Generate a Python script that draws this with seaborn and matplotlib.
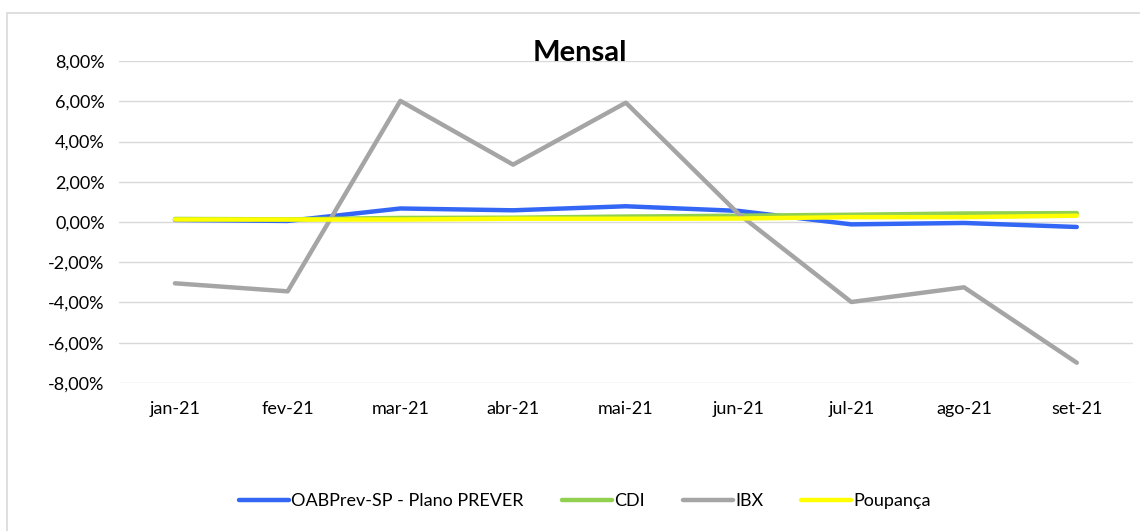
import pandas as pd
import matplotlib.pyplot as plt
import seaborn as sns
from matplotlib.ticker import FuncFormatter
from matplotlib.patches import Rectangle

meses = ["jan-21", "fev-21", "mar-21", "abr-21", "mai-21", "jun-21", "jul-21", "ago-21", "set-21"]
oabprev = [0.10, 0.05, 0.67, 0.58, 0.78, 0.55, -0.12, -0.05, -0.25]
cdi = [0.15, 0.13, 0.20, 0.21, 0.27, 0.31, 0.36, 0.42, 0.44]
ibx = [-3.05, -3.45, 6.02, 2.85, 5.93, 0.40, -3.98, -3.25, -7.00]
poupanca = [0.12, 0.12, 0.12, 0.16, 0.16, 0.17, 0.24, 0.24, 0.31]

series = {
    "OABPrev-SP - Plano PREVER": oabprev,
    "CDI": cdi,
    "IBX": ibx,
    "Poupança": poupanca,
}
cores = ["#3366F5", "#92D050", "#A5A5A5", "#FFFF00"]

df = pd.DataFrame(series, index=meses).reset_index(names="mes")
df = df.melt(id_vars="mes", var_name="serie", value_name="valor")

sns.set_style("white")
plt.rcParams["font.family"] = ["Lato", "DejaVu Sans"]
plt.rcParams["text.color"] = "black"

fig = plt.figure(figsize=(11.4, 5.31), dpi=100)
ax = fig.add_axes([0.104, 0.279, 0.890, 0.606])

sns.lineplot(data=df, x="mes", y="valor", hue="serie", palette=cores,
             linewidth=3.2, sort=False, ax=ax, solid_capstyle="round")

ax.set_ylim(-8, 8)
ax.set_xlim(-0.5, len(meses) - 0.5)
ax.set_yticks(range(-8, 9, 2))
ax.yaxis.set_major_formatter(FuncFormatter(lambda v, p: f"{v:.2f}%".replace(".", ",")))
ax.grid(axis="y", color="#D9D9D9", linewidth=1)
ax.set_axisbelow(True)
for s in ax.spines.values():
    s.set_visible(False)
ax.tick_params(axis="both", length=0, labelsize=13, labelcolor="black")
ax.tick_params(axis="x", pad=13)
ax.tick_params(axis="y", pad=10)
ax.set_xlabel("")
ax.set_ylabel("")

fig.text(0.509, 0.9, "Mensal", ha="center", va="center", fontsize=21,
         fontweight="bold", color="black")

handles, labels = ax.get_legend_handles_labels()
ax.legend_.remove()
fig.legend(handles, labels, loc="center", bbox_to_anchor=(0.513, 0.056), ncol=4,
           frameon=False, fontsize=13, handlelength=2.8, handletextpad=0.1,
           columnspacing=2.1, labelcolor="black")

fig.patches.append(Rectangle((7 / 1140, -10 / 531), 1140 / 1140, 528 / 531,
                             transform=fig.transFigure, fill=False,
                             edgecolor="#D9D9D9", linewidth=1.2))

fig.savefig("out.png", dpi=100)
